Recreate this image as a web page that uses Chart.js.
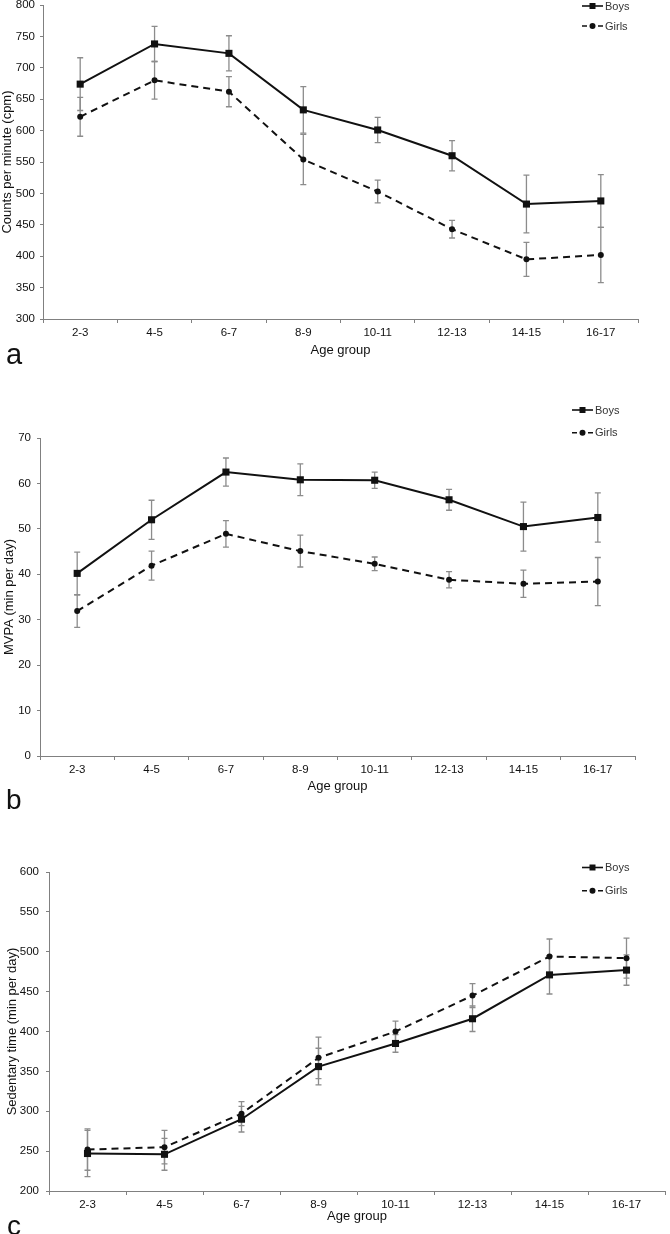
<!DOCTYPE html>
<html lang="en">
<head>
<meta charset="UTF-8">
<title>Activity by age group</title>
<script src="https://cdn.jsdelivr.net/npm/chart.js@4.4.1/dist/chart.umd.min.js"></script>
<style>
  html, body { margin: 0; padding: 0; background: #fff; }
  body { width: 670px; height: 1234px; position: relative; overflow: hidden; font-family: "Liberation Sans", Arial, sans-serif; }
  .panel { position: absolute; left: 0; width: 670px; }
  .letter { position: absolute; color: #111; line-height: 1; }
</style>
</head>
<body>
<div class="panel" style="top:-10px;height:368px"><canvas id="chartA"></canvas></div>
<div class="panel" style="top:395px;height:399px"><canvas id="chartB"></canvas></div>
<div class="panel" style="top:850px;height:374px"><canvas id="chartC"></canvas></div>
<div class="letter" style="left:6px;top:340px;font-size:29px">a</div>
<div class="letter" style="left:6px;top:786px;font-size:28px">b</div>
<div class="letter" style="left:7px;top:1212px;font-size:28px">c</div>
<script>
const ageGroups = ['2-3', '4-5', '6-7', '8-9', '10-11', '12-13', '14-15', '16-17'];

// a: counts per minute
const cpmBoys = [674, 738, 723, 633, 601, 560, 483, 488];
const cpmBoysErr = [42, 28, 28, 37, 20, 24, 46, 42];
const cpmGirls = [622, 680, 662, 554, 503, 443, 395, 402];
const cpmGirlsErr = [31, 30, 24, 40, 18, 14, 27, 44];

// b: MVPA
const mvpaBoys = [40.2, 52.0, 62.5, 60.8, 60.7, 56.4, 50.5, 52.5];
const mvpaBoysErr = [4.7, 4.3, 3.1, 3.5, 1.8, 2.3, 5.4, 5.4];
const mvpaGirls = [31.9, 41.9, 48.9, 45.1, 42.3, 38.8, 37.9, 38.4];
const mvpaGirlsErr = [3.6, 3.2, 2.9, 3.5, 1.5, 1.8, 3.0, 5.3];

// c: sedentary time
const sedBoys = [247, 246, 290, 356, 385, 416, 471, 477];
const sedBoysErr = [29, 20, 16, 23, 11, 16, 24, 19];
const sedGirls = [252, 255, 297, 367, 400, 445, 494, 492];
const sedGirlsErr = [26, 21, 15, 26, 13, 15, 22, 25];

const FONT = '"Liberation Sans", Arial, sans-serif';
const AXIS_GREY = '#808080';

// error bars drawn under the lines
const errorBars = {
    id: 'errorBars',
    beforeDatasetsDraw(chart) {
        const ctx = chart.ctx;
        const y = chart.scales.y;
        chart.data.datasets.forEach((ds, i) => {
            const meta = chart.getDatasetMeta(i);
            ctx.save();
            ctx.strokeStyle = '#8c8c8c';
            ctx.lineWidth = 1.3;
            meta.data.forEach((pt, j) => {
                const top = y.getPixelForValue(ds.data[j] + ds.errors[j]);
                const bot = y.getPixelForValue(ds.data[j] - ds.errors[j]);
                ctx.beginPath();
                ctx.moveTo(pt.x, top); ctx.lineTo(pt.x, bot);
                ctx.moveTo(pt.x - 3, top); ctx.lineTo(pt.x + 3, top);
                ctx.moveTo(pt.x - 3, bot); ctx.lineTo(pt.x + 3, bot);
                ctx.stroke();
            });
            ctx.restore();
        });
    }
};

// legend in the top right corner, line + marker + label
const sexLegend = {
    id: 'sexLegend',
    afterDraw(chart, args, opts) {
        const ctx = chart.ctx;
        const area = chart.chartArea;
        const x0 = area.right + opts.dx;
        chart.data.datasets.forEach((ds, i) => {
            const y = area.top + opts.dy + i * opts.gap;
            ctx.save();
            ctx.strokeStyle = '#111';
            ctx.fillStyle = '#111';
            ctx.lineWidth = 1.6;
            ctx.beginPath();
            if (ds.borderDash) {
                ctx.moveTo(x0, y); ctx.lineTo(x0 + 5, y);
                ctx.moveTo(x0 + 16, y); ctx.lineTo(x0 + 21, y);
            } else {
                ctx.moveTo(x0, y); ctx.lineTo(x0 + 21, y);
            }
            ctx.stroke();
            ctx.beginPath();
            if (ds.pointStyle === 'rect') {
                ctx.rect(x0 + 7.5, y - 3, 6, 6);
            } else {
                ctx.arc(x0 + 10.5, y, 3, 0, Math.PI * 2);
            }
            ctx.fill();
            ctx.fillStyle = '#333';
            ctx.font = '11px ' + FONT;
            ctx.textBaseline = 'middle';
            ctx.fillText(ds.label, x0 + 23, y + 0.5);
            ctx.restore();
        });
    }
};

function makeChart(id, cfg) {
    new Chart(document.getElementById(id), {
        type: 'line',
        data: {
            labels: ageGroups,
            datasets: [{
                label: 'Boys',
                data: cfg.boys,
                errors: cfg.boysErr,
                borderColor: '#111',
                backgroundColor: '#111',
                borderWidth: 2,
                pointStyle: 'rect',
                pointRadius: 5,
                pointBorderWidth: 0,
                tension: 0
            }, {
                label: 'Girls',
                data: cfg.girls,
                errors: cfg.girlsErr,
                borderColor: '#111',
                backgroundColor: '#111',
                borderWidth: 2,
                borderDash: [7, 5],
                pointStyle: 'circle',
                pointRadius: 3,
                pointBorderWidth: 0,
                tension: 0
            }]
        },
        options: {
            responsive: true,
            maintainAspectRatio: false,
            animation: false,
            devicePixelRatio: 1,
            events: [],
            layout: { padding: { top: cfg.padTop, right: cfg.padRight, left: 0, bottom: 0 } },
            plugins: {
                legend: { display: false },
                tooltip: { enabled: false },
                sexLegend: cfg.legend
            },
            scales: {
                x: {
                    offset: true,
                    afterFit(scale) { scale.height = cfg.xHeight; },
                    grid: { offset: true, drawOnChartArea: false, tickLength: 4, color: AXIS_GREY },
                    border: { color: AXIS_GREY, width: 1 },
                    ticks: { color: '#111', padding: 3, font: { family: FONT, size: 11.5 }, maxRotation: 0 },
                    title: { display: true, text: 'Age group', color: '#111', padding: 0, font: { family: FONT, size: 13 } }
                },
                y: {
                    min: cfg.min,
                    max: cfg.max,
                    afterFit(scale) { scale.width = cfg.yWidth; },
                    grid: { drawOnChartArea: false, tickLength: 3, color: AXIS_GREY },
                    border: { color: AXIS_GREY, width: 1 },
                    ticks: { stepSize: cfg.step, color: '#111', padding: cfg.yPad, font: { family: FONT, size: 11.5 } },
                    title: { display: true, text: cfg.yTitle, color: '#111', padding: { top: cfg.yTitlePad, bottom: 0 }, font: { family: FONT, size: 13, lineHeight: 1 } }
                }
            }
        },
        plugins: [errorBars, sexLegend]
    });
}

makeChart('chartA', {
    boys: cpmBoys, boysErr: cpmBoysErr, girls: cpmGirls, girlsErr: cpmGirlsErr,
    min: 300, max: 800, step: 50, yTitle: 'Counts per minute (cpm)',
    padTop: 15, padRight: 32, xHeight: 39, yWidth: 43, yPad: 5, yTitlePad: 1,
    legend: { dx: -56, dy: 1, gap: 20 }
});

makeChart('chartB', {
    boys: mvpaBoys, boysErr: mvpaBoysErr, girls: mvpaGirls, girlsErr: mvpaGirlsErr,
    min: 0, max: 70, step: 10, yTitle: 'MVPA (min per day)',
    padTop: 43, padRight: 35, xHeight: 38, yWidth: 40, yPad: 6, yTitlePad: 2.5,
    legend: { dx: -63, dy: -28, gap: 22.7 }
});

makeChart('chartC', {
    boys: sedBoys, boysErr: sedBoysErr, girls: sedGirls, girlsErr: sedGirlsErr,
    min: 200, max: 600, step: 50, yTitle: 'Sedentary time (min per day)',
    padTop: 22, padRight: 0, xHeight: 33, yWidth: 49, yPad: 7, yTitlePad: 5.5,
    legend: { dx: -83, dy: -4.5, gap: 23.3 }
});
</script>
</body>
</html>
